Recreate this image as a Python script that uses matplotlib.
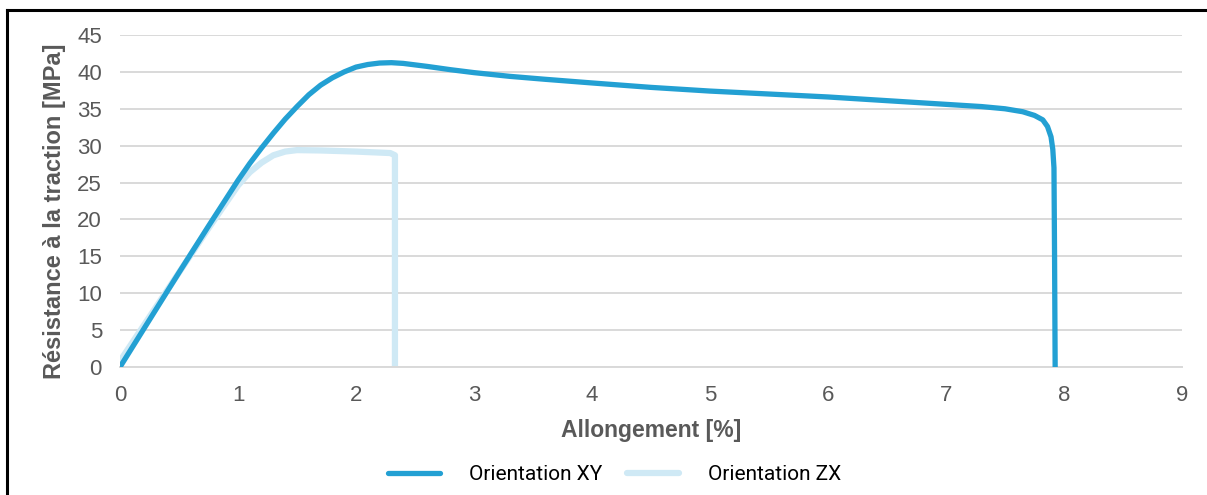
import matplotlib
matplotlib.use("Agg")
import matplotlib.pyplot as plt
from matplotlib.lines import Line2D

plt.rcParams['font.family'] = ['Liberation Sans', 'DejaVu Sans']

# elongation [%] / tensile strength [MPa]
xy_x = [0.0, 0.25, 0.5, 0.75, 1.0, 1.1, 1.2, 1.3, 1.4, 1.5, 1.6, 1.7, 1.8, 1.9, 2.0, 2.1, 2.2,
        2.3, 2.4, 2.6, 2.8, 3.0, 3.3, 3.6, 4.0, 4.5, 5.0, 5.5, 6.0, 6.5, 7.0, 7.3, 7.5, 7.65, 7.75,
        7.82, 7.86, 7.89, 7.905, 7.915, 7.92, 7.925]
xy_y = [0.0, 6.4, 12.8, 19.1, 25.3, 27.6, 29.7, 31.7, 33.6, 35.3, 36.9, 38.2, 39.2, 40.0, 40.65, 41.0, 41.2,
        41.25, 41.15, 40.75, 40.3, 39.9, 39.4, 39.0, 38.5, 37.9, 37.4, 37.0, 36.6, 36.1, 35.6, 35.3, 35.0,
        34.6, 34.1, 33.5, 32.6, 31.2, 29.5, 27.0, 15.0, 0.0]

zx_x = [0.0, 0.25, 0.5, 0.75, 1.0, 1.1, 1.2, 1.3, 1.4, 1.5, 1.7, 2.0, 2.29, 2.33, 2.33]
zx_y = [0.8, 6.8, 12.8, 18.8, 24.6, 26.4, 27.7, 28.7, 29.2, 29.4, 29.35, 29.2, 29.0, 28.7, 0.0]

x_ticks = list(range(0, 10))
y_ticks = list(range(0, 50, 5))

c_xy = '#23a0d3'
c_zx = '#cfe9f5'
grey = '#595959'

fig = plt.figure(figsize=(12.07, 4.95), dpi=100)
ax = fig.add_axes([120 / 1207, 1 - 367 / 495, 1062 / 1207, 332 / 495])

ax.plot(xy_x, xy_y, color=c_xy, lw=3.8, solid_capstyle='round', solid_joinstyle='round',
        label='Orientation XY', zorder=3)
ax.plot(zx_x, zx_y, color=c_zx, lw=4.5, solid_capstyle='round', solid_joinstyle='round',
        label='Orientation ZX', zorder=2)

ax.set_xlim(0, 9)
ax.set_ylim(0, 45)
ax.set_xticks(x_ticks)
ax.set_yticks(y_ticks)
ax.grid(axis='y', color='#d9d9d9', lw=1.4)
ax.set_axisbelow(True)
for s in ['top', 'right', 'left']:
    ax.spines[s].set_visible(False)
ax.spines['bottom'].set_color('#d9d9d9')
ax.spines['bottom'].set_linewidth(1.4)
ax.tick_params(length=0, labelsize=16, labelcolor=grey, pad=13)

ax.set_xlabel('Allongement [%]', fontsize=16.5, fontweight='bold', color=grey, labelpad=9)
ax.set_ylabel('Résistance à la traction [MPa]', fontsize=17, fontweight='bold', color=grey)
ax.yaxis.set_label_coords(-54 / 1062, 0.47)

leg = fig.legend(loc='center', bbox_to_anchor=(0.5 + 11 / 1207, 1 - 475 / 495), ncol=2, frameon=False,
                 handlelength=2.5, columnspacing=1.2, handletextpad=1.4,
                 prop={'family': ['Roboto', 'DejaVu Sans'], 'size': 15})

# outer frame (top and left visible in the reference)
fig.add_artist(Line2D([7 / 1207, 7 / 1207], [0, 1 - 10 / 495], color='black', lw=2.2,
                      transform=fig.transFigure))
fig.add_artist(Line2D([7 / 1207, 1], [1 - 10 / 495, 1 - 10 / 495], color='black', lw=2.2,
                      transform=fig.transFigure))

fig.savefig('out.png', dpi=100)
